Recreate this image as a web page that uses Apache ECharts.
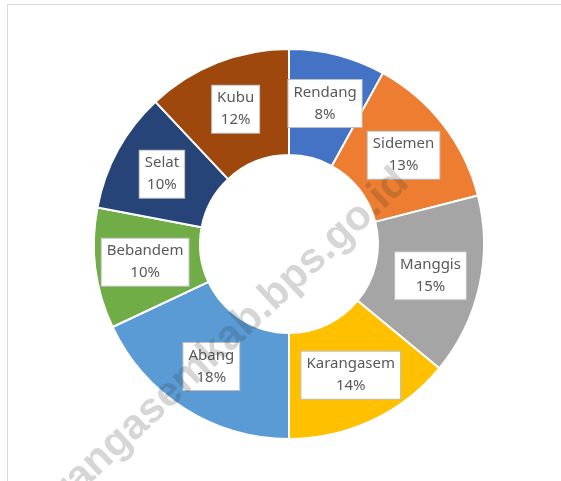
<!DOCTYPE html>
<html>
<head>
<meta charset="utf-8">
<script src="https://cdn.jsdelivr.net/npm/echarts@6/dist/echarts.min.js"></script>
<style>
  html, body { margin: 0; padding: 0; background: #fff; }
  #main { width: 561px; height: 481px; }
</style>
</head>
<body>
<div id="main"></div>
<script>
// kecamatan di Karangasem, persen
var names = ['Rendang', 'Sidemen', 'Manggis', 'Karangasem', 'Abang', 'Bebandem', 'Selat', 'Kubu'];
var values = [8, 13, 15, 14, 18, 10, 10, 12];
var colors = ['#4472C4', '#ED7D31', '#A5A5A5', '#FFC000', '#5B9BD5', '#70AD47', '#264478', '#9E480E'];

var myChart = echarts.init(document.getElementById('main'));

var data = names.map(function (n, i) {
    return { name: n, value: values[i], itemStyle: { color: colors[i] } };
});

var option = {
    animation: false,
    backgroundColor: '#fff',
    graphic: [{
        type: 'rect',
        shape: { x: 7.5, y: 4.5, width: 600, height: 520 },
        style: { fill: 'none', stroke: '#d9d9d9', lineWidth: 1 },
        z: 0
    }, {
        type: 'text',
        x: 214,
        y: 352,
        rotation: 43 * Math.PI / 180,
        z: 100,
        style: {
            text: 'karangasemkab.bps.go.id',
            fontFamily: 'Liberation Sans',
            fontWeight: 'bold',
            fontSize: 42,
            fill: 'rgba(50,50,50,0.2)',
            align: 'center',
            verticalAlign: 'middle'
        }
    }],
    series: [{
        type: 'pie',
        center: [289, 244],
        radius: [89, 195],
        startAngle: 90,
        clockwise: true,
        data: data,
        itemStyle: { borderColor: '#fff', borderWidth: 2 },
        label: {
            show: true,
            position: 'inside',
            formatter: '{b}\n{c}%',
            fontFamily: 'Noto Sans',
            fontSize: 15,
            lineHeight: 22,
            color: '#595959',
            backgroundColor: '#fff',
            borderColor: '#bfbfbf',
            borderWidth: 1,
            padding: [2, 5, 1, 5]
        },
        labelLine: { show: false },
        emphasis: { disabled: true }
    }]
};
myChart.setOption(option);
</script>
</body>
</html>
